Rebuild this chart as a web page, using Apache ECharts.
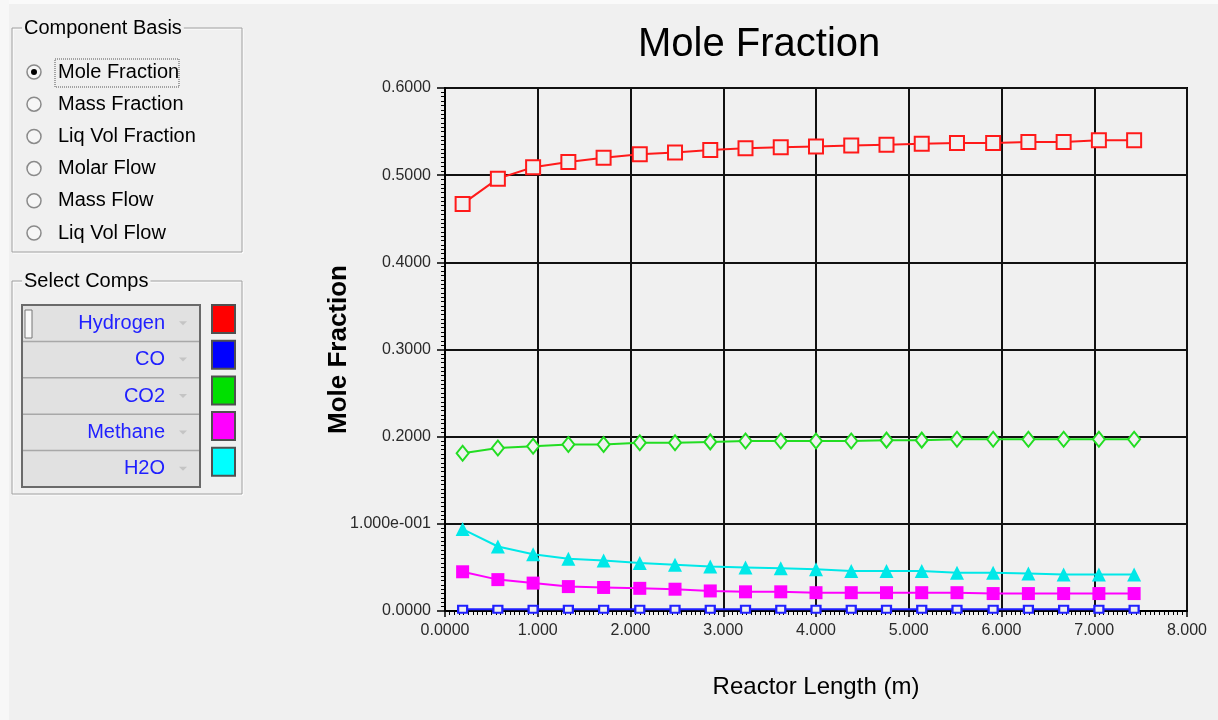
<!DOCTYPE html>
<html>
<head>
<meta charset="utf-8">
<script src="https://cdn.jsdelivr.net/npm/echarts@6/dist/echarts.min.js"></script>
<style>
  html, body { margin: 0; padding: 0; background: #f0f0f0; }
  #main { width: 1218px; height: 720px; }
</style>
</head>
<body>
<div id="main"></div>
<script>
// reactor length of each segment point (m)
var lengths  = [0.19, 0.57, 0.95, 1.33, 1.71, 2.10, 2.48, 2.86, 3.24, 3.62, 4.00, 4.38, 4.76, 5.14, 5.52, 5.91, 6.29, 6.67, 7.05, 7.43];
// mole fractions
var hydrogen = [0.467, 0.496, 0.509, 0.515, 0.520, 0.524, 0.526, 0.529, 0.531, 0.532, 0.533, 0.534, 0.535, 0.536, 0.537, 0.537, 0.538, 0.538, 0.540, 0.540];
var co       = [0.002, 0.002, 0.002, 0.002, 0.002, 0.002, 0.002, 0.002, 0.002, 0.002, 0.002, 0.002, 0.002, 0.002, 0.002, 0.002, 0.002, 0.002, 0.002, 0.002];
var co2      = [0.181, 0.187, 0.189, 0.191, 0.191, 0.193, 0.193, 0.194, 0.195, 0.195, 0.195, 0.195, 0.196, 0.196, 0.197, 0.197, 0.197, 0.197, 0.197, 0.197];
var methane  = [0.045, 0.036, 0.032, 0.028, 0.027, 0.026, 0.025, 0.023, 0.022, 0.022, 0.021, 0.021, 0.021, 0.021, 0.021, 0.020, 0.020, 0.020, 0.020, 0.020];
var h2o      = [0.094, 0.074, 0.065, 0.060, 0.058, 0.055, 0.053, 0.051, 0.050, 0.049, 0.048, 0.046, 0.046, 0.046, 0.044, 0.044, 0.043, 0.042, 0.042, 0.042];

var compNames  = ['Hydrogen', 'CO', 'CO2', 'Methane', 'H2O'];
var compColors = ['#ff0000', '#0000ff', '#00e000', '#ff00ff', '#00ffff'];
var basisOptions = ['Mole Fraction', 'Mass Fraction', 'Liq Vol Fraction', 'Molar Flow', 'Mass Flow', 'Liq Vol Flow'];

var FONT = 'Arial, "Liberation Sans", sans-serif';

function pts(ys) {
  return lengths.map(function (x, i) { return [x, ys[i]]; });
}

// left side panel (radio group + component list)
var panel = [];
panel.push({ type: 'rect', shape: { x: 0, y: 0, width: 1218, height: 4 }, style: { fill: '#fafafa' } });
panel.push({ type: 'rect', shape: { x: 0, y: 0, width: 9, height: 720 }, style: { fill: '#f7f7f7' } });
function groupBox(x, y, w, h, title) {
  panel.push({ type: 'rect', shape: { x: x + 1, y: y + 1, width: w, height: h }, style: { fill: 'none', stroke: '#ffffff', lineWidth: 1 } });
  panel.push({ type: 'rect', shape: { x: x, y: y, width: w, height: h }, style: { fill: 'none', stroke: '#a0a0a0', lineWidth: 1 } });
  panel.push({ type: 'text', style: { text: title, x: x + 10, y: y, verticalAlign: 'middle', font: '20px ' + FONT, fill: '#000', backgroundColor: '#f0f0f0', padding: [0, 2] } });
}
groupBox(12, 28, 230, 224, 'Component Basis');
basisOptions.forEach(function (name, i) {
  var cy = 72 + i * 32.2;
  panel.push({ type: 'circle', shape: { cx: 34, cy: cy, r: 7 }, style: { fill: '#f6f6f6', stroke: '#8a8a8a', lineWidth: 1.5 } });
  if (i === 0) panel.push({ type: 'circle', shape: { cx: 34, cy: cy, r: 3 }, style: { fill: '#000' } });
  panel.push({ type: 'text', style: { text: name, x: 58, y: cy, verticalAlign: 'middle', font: '20px ' + FONT, fill: '#000' } });
});
panel.push({ type: 'rect', shape: { x: 55, y: 59, width: 124, height: 28 }, style: { fill: 'none', stroke: '#555', lineWidth: 1, lineDash: [1, 1] } });

groupBox(12, 281, 230, 213, 'Select Comps');
panel.push({ type: 'rect', shape: { x: 22, y: 305, width: 178, height: 182 }, style: { fill: '#e1e1e1', stroke: '#6a6a6a', lineWidth: 2 } });
compNames.forEach(function (name, i) {
  var top = 305 + i * 36.4, cy = top + 18.2;
  if (i > 0) panel.push({ type: 'line', shape: { x1: 23, y1: top, x2: 199, y2: top }, style: { stroke: '#a8a8a8', lineWidth: 1.5 } });
  panel.push({ type: 'text', style: { text: name, x: 165, y: cy, align: 'right', verticalAlign: 'middle', font: '20px ' + FONT, fill: '#2020ff' } });
  panel.push({ type: 'polygon', shape: { points: [[179, cy - 2], [187, cy - 2], [183, cy + 2]] }, style: { fill: '#c4c4c4' } });
  panel.push({ type: 'rect', shape: { x: 212, y: 305 + i * 35.7, width: 23, height: 28 }, style: { fill: compColors[i], stroke: '#505050', lineWidth: 2 } });
});
panel.push({ type: 'rect', shape: { x: 25, y: 310, width: 7, height: 28 }, style: { fill: '#f8f8f8', stroke: '#777', lineWidth: 1 } });

var chart = echarts.init(document.getElementById('main'));
var option = {
  animation: false,
  backgroundColor: '#f0f0f0',
  title: {
    text: 'Mole Fraction',
    left: 633, top: 20,
    textStyle: { fontSize: 40, fontWeight: 'normal', color: '#000', fontFamily: FONT }
  },
  grid: {
    left: 445, right: 31, top: 88, bottom: 109,
    show: true, borderColor: '#000', borderWidth: 2, backgroundColor: 'transparent'
  },
  xAxis: {
    type: 'value', min: 0, max: 8, interval: 1,
    name: 'Reactor Length (m)', nameLocation: 'middle', nameGap: 64,
    nameTextStyle: { fontSize: 24, color: '#000', fontFamily: FONT },
    axisLine: { lineStyle: { color: '#000', width: 2 } },
    axisTick: { length: 6, lineStyle: { color: '#000', width: 1.5 } },
    minorTick: { show: true, splitNumber: 20, length: 4, lineStyle: { color: '#000', width: 1 } },
    splitLine: { show: true, lineStyle: { color: '#111', width: 2 } },
    axisLabel: {
      fontSize: 16, color: '#2a2a2a', fontFamily: FONT, margin: 12,
      formatter: function (v) { return v === 0 ? '0.0000' : v.toFixed(3); }
    }
  },
  yAxis: {
    type: 'value', min: 0, max: 0.6, interval: 0.1,
    name: 'Mole Fraction', nameLocation: 'middle', nameGap: 93, nameMoveOverlap: false,
    nameTextStyle: { fontSize: 26, fontWeight: 'bold', color: '#000', fontFamily: FONT },
    axisLine: { show: true, lineStyle: { color: '#000', width: 2 } },
    axisTick: { show: true, length: 8, lineStyle: { color: '#000', width: 1.5 } },
    minorTick: { show: true, splitNumber: 20, length: 4, lineStyle: { color: '#000', width: 1 } },
    splitLine: { show: true, lineStyle: { color: '#111', width: 2 } },
    axisLabel: {
      fontSize: 16, color: '#2a2a2a', fontFamily: FONT, margin: 14,
      formatter: function (v) { return Math.abs(v - 0.1) < 1e-9 ? '1.000e-001' : v.toFixed(4); }
    }
  },
  graphic: { elements: panel },
  series: [
    {
      name: compNames[0], type: 'line', data: pts(hydrogen),
      symbol: 'rect', symbolSize: 14,
      itemStyle: { color: '#f0f0f0', borderColor: '#ff1a1a', borderWidth: 2 },
      lineStyle: { color: '#ff1a1a', width: 2 }
    },
    {
      name: compNames[1], type: 'line', data: pts(co),
      symbol: 'rect', symbolSize: [9, 7],
      itemStyle: { color: '#f0f0f0', borderColor: '#2020ff', borderWidth: 2 },
      lineStyle: { color: '#2020ff', width: 2 }
    },
    {
      name: compNames[2], type: 'line', data: pts(co2),
      symbol: 'diamond', symbolSize: [12, 15],
      itemStyle: { color: '#f0f0f0', borderColor: '#22dd22', borderWidth: 2 },
      lineStyle: { color: '#22dd22', width: 2 }
    },
    {
      name: compNames[3], type: 'line', data: pts(methane),
      symbol: 'rect', symbolSize: 13,
      itemStyle: { color: '#ff00ff' },
      lineStyle: { color: '#ff00ff', width: 2 }
    },
    {
      name: compNames[4], type: 'line', data: pts(h2o),
      symbol: 'triangle', symbolSize: 14,
      itemStyle: { color: '#00e8e8' },
      lineStyle: { color: '#00e8e8', width: 2 }
    }
  ]
};
chart.setOption(option);
</script>
</body>
</html>
